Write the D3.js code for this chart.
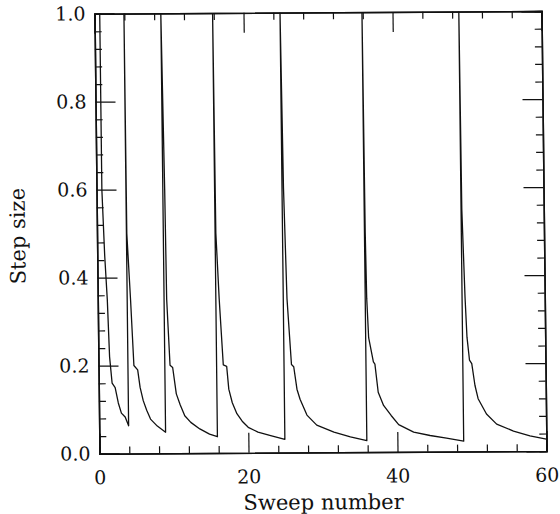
<!DOCTYPE html>
<html>
<head>
<meta charset="utf-8">
<script src="https://cdn.jsdelivr.net/npm/d3@7/dist/d3.min.js"></script>
<style>
  body { margin: 0; background: #fff; }
  text { font-family: "DejaVu Serif", serif; fill: #111; }
</style>
</head>
<body>
<div id="chart"></div>
<script>
// step size vs sweep number, one array per restart segment
var seg1 = [[0.7,1.0],[0.72,0.6],[1.0,0.45],[1.28,0.35],[1.5,0.22],[1.8,0.16],[2.2,0.15],[2.6,0.115],[3.0,0.092],[3.5,0.083],[3.95,0.063]];
var seg2 = [[3.95,1.0],[4.0,0.5],[4.4,0.35],[4.75,0.2],[5.25,0.19],[5.55,0.15],[5.95,0.12],[6.4,0.098],[6.9,0.078],[7.8,0.062],[8.9,0.048]];
var seg3 = [[8.9,1.0],[9.15,0.6],[9.25,0.35],[9.6,0.2],[9.95,0.195],[10.4,0.135],[10.9,0.11],[11.5,0.085],[12.3,0.07],[13.5,0.055],[14.8,0.043],[15.85,0.037]];
var seg4 = [[15.85,1.0],[15.95,0.5],[16.3,0.35],[16.75,0.2],[17.2,0.197],[17.45,0.145],[17.9,0.114],[18.5,0.089],[19.2,0.072],[20.0,0.058],[21.3,0.047],[23.0,0.039],[24.9,0.03]];
var seg5 = [[24.9,1.0],[25.1,0.6],[25.4,0.35],[25.9,0.2],[26.2,0.195],[26.6,0.144],[27.0,0.121],[27.9,0.085],[29.2,0.062],[31.5,0.046],[33.7,0.035],[35.9,0.026]];
var seg6 = [[35.9,1.0],[36.0,0.5],[36.1,0.35],[36.3,0.26],[36.9,0.205],[37.1,0.2],[37.5,0.136],[38.2,0.106],[39.2,0.083],[40.2,0.062],[42.2,0.045],[44.4,0.037],[46.6,0.031],[48.9,0.024]];
var seg7 = [[48.9,1.0],[49.0,0.55],[49.3,0.35],[49.5,0.26],[49.8,0.208],[50.1,0.2],[50.5,0.15],[50.9,0.12],[52.0,0.085],[53.35,0.062],[55.6,0.046],[57.8,0.035],[60,0.027]];

var xMajor = [0,20,40,60];
var xMinor = [4,8,12,16,24,28,32,36,44,48,52,56];
var yMajor = [0,0.2,0.4,0.6,0.8,1.0];
var yMinor = [0.04,0.08,0.12,0.16,0.24,0.28,0.32,0.36,0.44,0.48,0.52,0.56,0.64,0.68,0.72,0.76,0.84,0.88,0.92,0.96];

var width=560, height=514;
var W=447, H=440; // plot frame in local coords
var majLen=20, minLen=7;

var svg=d3.select("#chart").append("svg").attr("width",width).attr("height",height);
// the scan is slightly skewed, so the whole figure sits in a tilted frame
var g=svg.append("g").attr("transform","matrix(1,-0.0058,0.0114,1,94.5,13.7)");

var x=d3.scaleLinear().domain([0,60]).range([0,W]);
var y=d3.scaleLinear().domain([0,1]).range([H,0]);

g.append("clipPath").attr("id","clip").append("rect").attr("width",W).attr("height",H);

var data=[].concat(seg1,seg2,seg3,seg4,seg5,seg6,seg7);
g.append("path").datum(data)
  .attr("clip-path","url(#clip)")
  .attr("fill","none").attr("stroke","#111").attr("stroke-width",1.3)
  .attr("stroke-linejoin","round")
  .attr("d",d3.line().x(function(d){return x(d[0]);}).y(function(d){return y(d[1]);}));

// axes: ticks inward on all four sides
var bottom=g.append("g").attr("transform","translate(0,"+H+")")
  .call(d3.axisBottom(x).tickValues(xMajor).tickSize(-majLen).tickPadding(17).tickFormat(d3.format("d")));
g.append("g").attr("transform","translate(0,"+H+")")
  .call(d3.axisBottom(x).tickValues(xMinor).tickSize(-minLen).tickFormat(""));
g.append("g").call(d3.axisTop(x).tickValues(xMajor).tickSize(-majLen).tickFormat(""));
g.append("g").call(d3.axisTop(x).tickValues(xMinor).tickSize(-minLen).tickFormat(""));

var left=g.append("g")
  .call(d3.axisLeft(y).tickValues(yMajor).tickSize(-majLen).tickPadding(9).tickFormat(d3.format(".1f")));
g.append("g").call(d3.axisLeft(y).tickValues(yMinor).tickSize(-minLen).tickFormat(""));
g.append("g").attr("transform","translate("+W+",0)")
  .call(d3.axisRight(y).tickValues(yMajor).tickSize(-majLen).tickFormat(""));
g.append("g").attr("transform","translate("+W+",0)")
  .call(d3.axisRight(y).tickValues(yMinor).tickSize(-minLen).tickFormat(""));

g.selectAll(".domain").attr("stroke","#111").attr("stroke-width",1.5);
g.selectAll(".tick line").attr("stroke","#111").attr("stroke-width",1.2);
g.selectAll(".tick text").attr("font-family","DejaVu Serif, serif").attr("font-size",19).attr("fill","#111");

g.append("text").attr("x",W/2).attr("y",H+57).attr("text-anchor","middle")
  .attr("font-size",21).text("Sweep number");
g.append("text").attr("transform","translate(-72,"+(H/2+2)+") rotate(-90)")
  .attr("text-anchor","middle").attr("font-size",21).text("Step size");
</script>
</body>
</html>
